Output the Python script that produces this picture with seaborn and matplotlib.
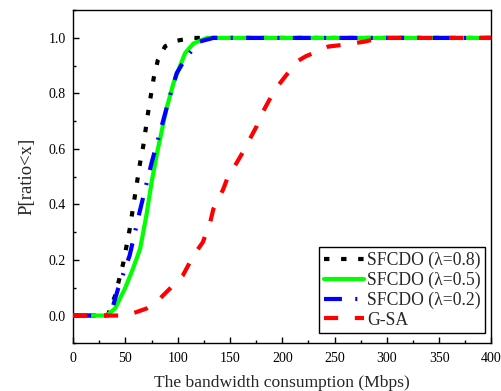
import numpy as np
import pandas as pd
import matplotlib
matplotlib.use("Agg")
import matplotlib.pyplot as plt
import seaborn as sns
from matplotlib.ticker import MultipleLocator

# Data
x_08 = [0, 33, 40, 48, 54, 59, 64, 67, 72, 77, 81, 88, 99, 115, 400]
y_08 = [0.0, 0.0, 0.07, 0.19, 0.31, 0.43, 0.55, 0.61, 0.74, 0.855, 0.92, 0.97, 0.99, 1.0, 1.0]

x_05 = [0, 32, 40, 49.5, 56, 64, 70, 75, 81, 83, 89, 96, 102, 107, 115, 128, 400]
y_05 = [0.0, 0.0, 0.025, 0.097, 0.157, 0.24, 0.36, 0.48, 0.60, 0.634, 0.742, 0.838, 0.897, 0.945, 0.98, 1.0, 1.0]

x_02 = [0, 33, 37, 43, 54, 64, 75, 83, 92.5, 99, 108.5, 121, 134, 400]
y_02 = [0.0, 0.0, 0.02, 0.097, 0.216, 0.38, 0.55, 0.66, 0.79, 0.873, 0.933, 0.987, 1.0, 1.0]

x_gsa = [0, 51, 70, 80, 96, 105, 115, 124, 131, 134, 143.5, 147, 161, 175.5, 180, 193, 198, 214, 222, 244, 258, 279, 293, 400]
y_gsa = [0.0, 0.0, 0.025, 0.05, 0.11, 0.145, 0.216, 0.264, 0.335, 0.383, 0.455, 0.49, 0.58, 0.682, 0.724, 0.814, 0.838, 0.915, 0.933, 0.969, 0.975, 0.987, 1.0, 1.0]

labels = ["SFCDO (\u03bb=0.8)", "SFCDO (\u03bb=0.5)", "SFCDO (\u03bb=0.2)", "G-SA"]
x_ticks = [0, 50, 100, 150, 200, 250, 300, 350, 400]
y_ticks = [0.0, 0.2, 0.4, 0.6, 0.8, 1.0]

sns.set_theme(style="white")
plt.rcParams['font.family'] = ['Liberation Serif', 'DejaVu Serif']

fig = plt.figure(figsize=(5.01, 3.91), dpi=100)
ax = fig.add_axes([0.146, 0.122, 0.835, 0.852])

lw = 3.0
sns.lineplot(x=x_08, y=y_08, ax=ax, color="black", lw=lw, label=labels[0],
             linestyle=(0, (1.3, 2.8)), zorder=2, sort=False)
sns.lineplot(x=x_05, y=y_05, ax=ax, color="#00ff00", lw=lw, label=labels[1],
             linestyle="-", zorder=3, sort=False)
sns.lineplot(x=x_02, y=y_02, ax=ax, color="#0000ff", lw=lw, label=labels[2],
             linestyle=(0, (4.3, 3.2, 0.5, 3.2)), zorder=4, sort=False)
sns.lineplot(x=x_gsa, y=y_gsa, ax=ax, color="#ff0000", lw=lw, label=labels[3],
             linestyle=(0, (3.4, 4.0)), zorder=5, sort=False)

ax.set_xlim(0, 400)
ax.set_ylim(-0.1, 1.1)
ax.set_xticks(x_ticks)
ax.set_xticklabels([str(v) for v in x_ticks])
ax.set_yticks(y_ticks)
ax.set_yticklabels([f"{v:.1f}" for v in y_ticks])
ax.xaxis.set_minor_locator(MultipleLocator(25))
ax.yaxis.set_minor_locator(MultipleLocator(0.1))
ax.tick_params(which="both", direction="in", bottom=True, left=True, top=False, right=False,
               labelsize=10, colors="black")
ax.tick_params(which="major", length=4.3, width=1)
ax.tick_params(which="minor", length=2.4, width=1)
ax.tick_params(axis="y", pad=5.5)
ax.tick_params(axis="x", pad=6.5)
for s in ax.spines.values():
    s.set_color("black")
    s.set_linewidth(1.0)

ax.set_xlabel("The bandwidth consumption (Mbps)", fontsize=12.6, labelpad=7)
ax.set_ylabel("P[ratio<x]", fontsize=13.5, labelpad=9)

leg = ax.legend(loc="lower right", bbox_to_anchor=(0.984, 0.031), fontsize=12.7,
                frameon=True, fancybox=False, edgecolor="black", framealpha=1,
                handlelength=2.3, borderpad=0.25, labelspacing=0.15,
                handletextpad=0.15, borderaxespad=0.0)
leg.get_frame().set_linewidth(1.0)

fig.savefig("out.png", dpi=100)
